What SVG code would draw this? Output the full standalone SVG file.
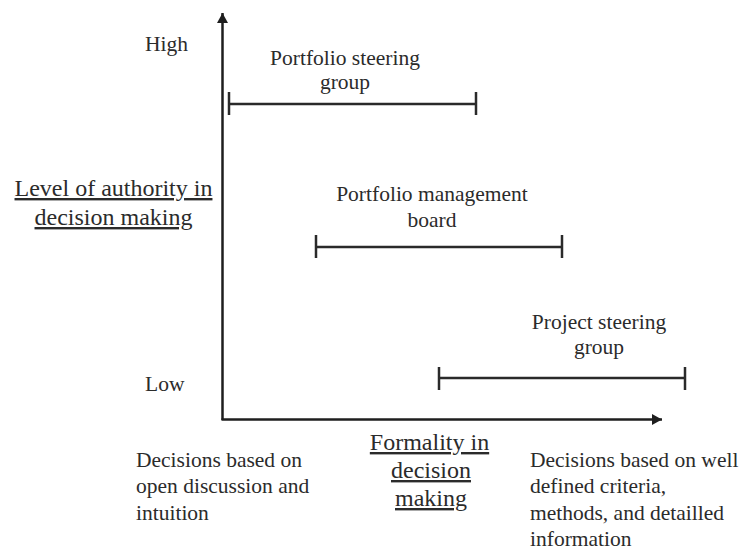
<svg xmlns="http://www.w3.org/2000/svg" width="747" height="550" viewBox="0 0 747 550" font-family="'Liberation Serif', 'DejaVu Serif', serif">
  <style>
    text { font-family: 'Liberation Serif', 'DejaVu Serif', serif; fill: #2b2b2b; }
    .t { font-size: 21.5px; }
    .h { font-size: 24px; text-decoration: underline; }
    .mid { text-anchor: middle; }
    .axis { stroke: #1e1e1e; stroke-width: 2.5; fill: none; }
    .bar { stroke: #2a2a2a; stroke-width: 2.5; fill: none; }
  </style>
  <defs>
    <marker id="arrow" markerUnits="userSpaceOnUse" markerWidth="11" markerHeight="11" refX="10" refY="5.5" orient="auto">
      <path d="M0,0 L10,5.5 L0,11 z" fill="#1e1e1e"/>
    </marker>
  </defs>
  <rect width="747" height="550" fill="#ffffff"/>

  <!-- axes -->
  <g id="connectors">
    <line class="axis" x1="222.5" y1="420" x2="222.5" y2="13" marker-end="url(#arrow)"/>
    <line class="axis" x1="221.5" y1="419.5" x2="662" y2="419.5" marker-end="url(#arrow)"/>
  </g>

  <!-- axis labels -->
  <g id="y-axis-labels">
    <text class="t" x="145" y="51">High</text>
    <text class="t" x="145" y="391">Low</text>
    <text class="h mid" x="113.5" y="196">Level of authority in</text>
    <text class="h mid" x="113.5" y="225">decision making</text>
  </g>
  <g id="x-axis-labels">
    <text class="h mid" x="429.5" y="450">Formality in</text>
    <text class="h mid" x="431" y="478">decision</text>
    <text class="h mid" x="431" y="506">making</text>
    <text class="t" x="136" y="467">Decisions based on</text>
    <text class="t" x="136" y="493">open discussion and</text>
    <text class="t" x="136" y="520">intuition</text>
    <text class="t" x="530" y="467">Decisions based on well</text>
    <text class="t" x="530" y="493">defined criteria,</text>
    <text class="t" x="530" y="520">methods, and detailled</text>
    <text class="t" x="530" y="546">information</text>
  </g>

  <!-- decision bodies -->
  <g id="portfolio-steering-group">
    <text class="t mid" x="345" y="65">Portfolio steering</text>
    <text class="t mid" x="345" y="89">group</text>
    <line class="bar" x1="229" y1="104" x2="476" y2="104"/>
    <line class="bar" x1="229" y1="92" x2="229" y2="115"/>
    <line class="bar" x1="476" y1="92" x2="476" y2="115"/>
  </g>
  <g id="portfolio-management-board">
    <text class="t mid" x="432" y="201">Portfolio management</text>
    <text class="t mid" x="432" y="227">board</text>
    <line class="bar" x1="316" y1="247" x2="562" y2="247"/>
    <line class="bar" x1="316" y1="235" x2="316" y2="258"/>
    <line class="bar" x1="562" y1="235" x2="562" y2="258"/>
  </g>
  <g id="project-steering-group">
    <text class="t mid" x="599" y="329">Project steering</text>
    <text class="t mid" x="599" y="354">group</text>
    <line class="bar" x1="439" y1="378" x2="685" y2="378"/>
    <line class="bar" x1="439" y1="367" x2="439" y2="390"/>
    <line class="bar" x1="685" y1="367" x2="685" y2="390"/>
  </g>
</svg>
